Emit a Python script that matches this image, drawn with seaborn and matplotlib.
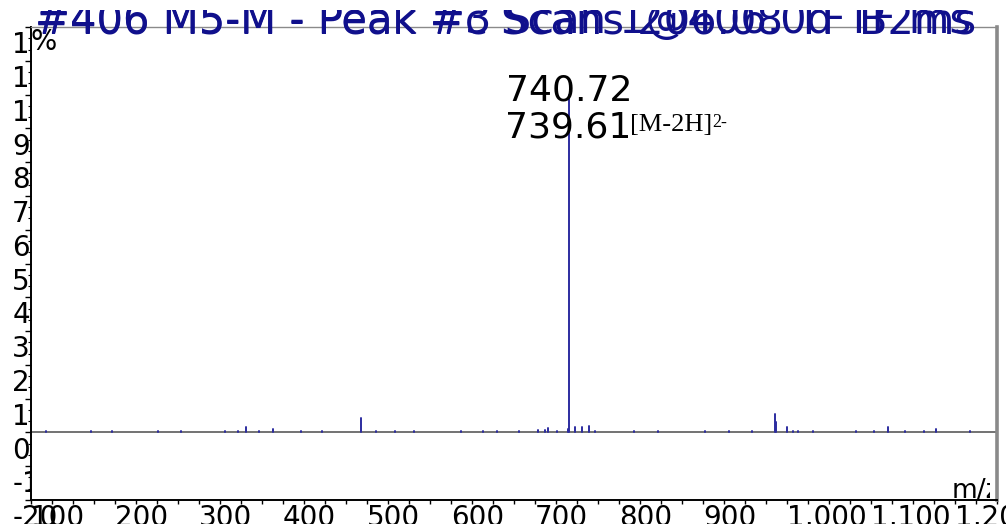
import matplotlib
matplotlib.use("Agg")
import matplotlib.pyplot as plt
import matplotlib.transforms as mtransforms
from matplotlib.ticker import FixedLocator, MultipleLocator
import pandas as pd
import seaborn as sns

# Centroided peaks: m/z and relative intensity (%)
peak_mz = [356.2, 388.5, 492.6, 712.4, 714.9, 739.61, 740.72, 747.6, 755.6, 764.2,
           985.9, 986.5, 999.6, 1006.8, 1119.8, 1177.2]
peak_int = [1.6, 1.0, 4.3, 0.7, 1.3, 0.9, 100.0, 1.5, 1.5, 1.9,
            5.6, 3.0, 1.6, 0.5, 1.7, 1.0]

# Baseline noise centroids
noise_mz = [118, 142, 171, 196, 224, 251, 279, 302, 331, 347, 372, 405, 421, 447, 468,
            511, 533, 556, 584, 612, 638, 655, 681, 703, 726, 771, 792, 818, 846, 871,
            902, 931, 958, 1013, 1031, 1058, 1082, 1104, 1141, 1163, 1196, 1218, 1237]
noise_int = [0.3, 0.2, 0.4, 0.3, 0.2, 0.3, 0.4, 0.2, 0.3, 0.5, 0.3, 0.2, 0.4, 0.3, 0.2,
             0.3, 0.4, 0.3, 0.2, 0.3, 0.4, 0.5, 0.3, 0.6, 0.4, 0.3, 0.2, 0.3, 0.4, 0.2,
             0.3, 0.4, 0.3, 0.5, 0.3, 0.2, 0.4, 0.3, 0.3, 0.4, 0.2, 0.3, 0.2]

# Annotated peaks and ion assignment
label_mz = [740.72, 739.61]
ion_label = "[M-2H]"
ion_charge = "2-"

# Axis ticks
x_ticks = [100, 200, 300, 400, 500, 600, 700, 800, 900, 1000, 1100, 1200]
x_tick_labels = ["100", "200", "300", "400", "500", "600", "700", "800", "900",
                 "1,000", "1,100", "1,200"]
y_ticks = [-20, -10, 0, 10, 20, 30, 40, 50, 60, 70, 80, 90, 100, 110, 120]
y_tick_labels = ["-20", "-10", "0", "10", "20", "30", "40", "50", "60", "70", "80",
                 "90", "100", "110", "120"]

# Header lines (two overlaid captions)
header_lines = ["#406 M5-M - Peak #3 Scan 1@406.0d TF ms",
                "#406 M5-M - Peak #c Scans 206.08 TF B2ms"]

sns.set_theme(style="ticks")
plt.rcParams["font.family"] = ["DejaVu Sans"]

W, H, DPI = 1006, 524, 100
fig = plt.figure(figsize=(W / DPI, H / DPI), dpi=DPI)
fig.patch.set_facecolor("white")
ax = fig.add_axes([31 / W, 24 / H, 966 / W, 473 / H])
ax.set_facecolor("white")

# Long-form table: each centroid drawn as a stem from 0 up to its intensity
rows = []
all_mz = peak_mz + noise_mz
all_int = peak_int + noise_int
for i, (mz, it) in enumerate(zip(all_mz, all_int)):
    rows.append({"peak": i, "mz": mz, "intensity": 0.0})
    rows.append({"peak": i, "mz": mz, "intensity": it})
df = pd.DataFrame(rows)

ax.axhline(0, color="#5a5a5a", lw=1.2, zorder=1)
sns.lineplot(data=df, x="mz", y="intensity", units="peak", estimator=None,
             sort=False, color="#2c2ca0", linewidth=1.4, legend=False, ax=ax,
             zorder=2)

ax.set_xlim(100, 1250)
ax.set_ylim(-20, 120)
ax.set_xlabel("")
ax.set_ylabel("")

# Frame
for side in ("left", "bottom"):
    ax.spines[side].set_color("black")
    ax.spines[side].set_linewidth(1.4)
ax.spines["top"].set_color("#8a8a8a")
ax.spines["top"].set_linewidth(1.0)
ax.spines["right"].set_color("#8a8a8a")
ax.spines["right"].set_linewidth(2.6)

# Ticks
ax.xaxis.set_major_locator(FixedLocator(x_ticks))
ax.xaxis.set_minor_locator(MultipleLocator(25))
ax.set_xticks(x_ticks)
ax.set_xticklabels(x_tick_labels)
ax.set_yticks(y_ticks)
ax.set_yticklabels(y_tick_labels)
ax.yaxis.set_minor_locator(MultipleLocator(10 / 3))

ax.tick_params(axis="x", which="both", direction="out", length=3, width=1,
               color="black", pad=0, labelsize=20, labelcolor="black")
ax.tick_params(axis="y", which="major", direction="out", length=4, width=1,
               color="black", pad=9.5, labelsize=20, labelcolor="black")
ax.tick_params(axis="y", which="minor", direction="out", length=2.5, width=0.8,
               color="black")

for lab in ax.get_xticklabels():
    lab.set_horizontalalignment("left")

# Y labels sit left of the frame; the part running under the plot area is hidden
left_clip = mtransforms.TransformedBbox(
    mtransforms.Bbox([[0, 0], [31 / W, 1]]), fig.transFigure)
shift = mtransforms.ScaledTranslation(0, -3 / 72, fig.dpi_scale_trans)
for tick, val in zip(ax.yaxis.get_major_ticks(), y_ticks):
    lab = tick.label1
    lab.set_horizontalalignment("left")
    lab.set_verticalalignment("top")
    lab.set_transform(lab.get_transform() + shift)
    if val > y_ticks[0]:
        lab.set_clip_on(True)
        lab.set_clip_box(left_clip)

# Peak labels
top_int = peak_int[peak_mz.index(label_mz[0])]
ax.annotate(f"{label_mz[0]:.2f}", xy=(label_mz[0], top_int),
            xytext=(0, 3), textcoords="offset points",
            ha="center", va="center", fontsize=26, color="black", zorder=5)
t2 = ax.annotate(f"{label_mz[1]:.2f}", xy=(label_mz[1], top_int),
                 xytext=(0, -24), textcoords="offset points",
                 ha="center", va="center", fontsize=26, color="black", zorder=5)
ion = ax.annotate(ion_label, xy=(1, 0.92), xycoords=t2,
                  xytext=(-1, 0), textcoords="offset points",
                  ha="left", va="top", fontsize=19, color="black",
                  family="Liberation Serif", zorder=5)
ax.annotate(ion_charge, xy=(1, 1), xycoords=ion,
            xytext=(0, 0), textcoords="offset points",
            ha="left", va="top", fontsize=13, color="black",
            family="Liberation Serif", zorder=5)

# Axis units
ax.annotate("%", xy=(0, 1), xycoords="axes fraction", xytext=(0, -1),
            textcoords="offset points", ha="left", va="top", fontsize=20,
            color="black")
unit_clip = mtransforms.TransformedBbox(
    mtransforms.Bbox([[0, 0], [990 / W, 1]]), fig.transFigure)
xunit = ax.annotate("m/z", xy=(1, 0), xycoords="axes fraction", xytext=(-33, 1.5),
                    textcoords="offset points", ha="left", va="baseline",
                    fontsize=19, color="black", annotation_clip=False)
xunit.set_clip_on(True)
xunit.set_clip_box(unit_clip)

# Header, cut off along the top edge
top_clip = mtransforms.TransformedBbox(
    mtransforms.Bbox([[0, 0], [1, (H - 10) / H]]), fig.transFigure)
for line in header_lines:
    t = fig.text(35 / W, (H - 33) / H, line, ha="left", va="baseline",
                 fontsize=30, color="#10108c")
    t.set_clip_on(True)
    t.set_clip_box(top_clip)

fig.savefig("out.png", dpi=DPI, facecolor="white")
